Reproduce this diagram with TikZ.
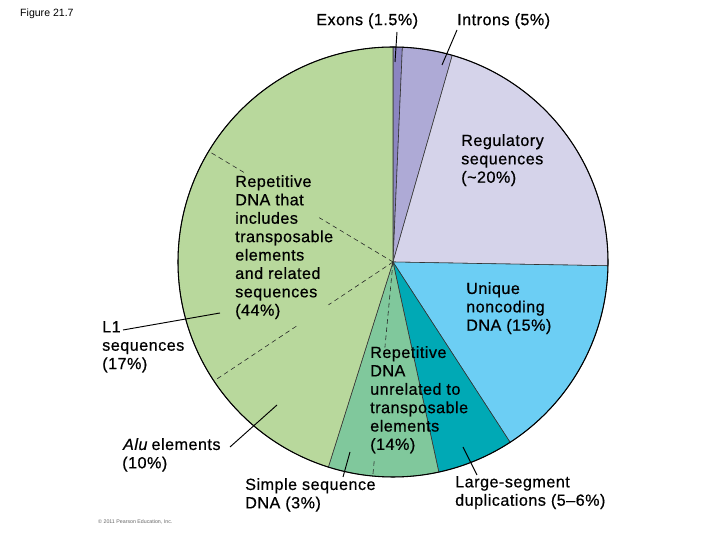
\documentclass[tikz,border=0pt]{standalone}
\usepackage{fontspec}
\setmainfont{Liberation Sans}
\newfontfamily\labfont[LetterSpace=3.0,FakeBold=0.6]{Liberation Sans}
\usetikzlibrary{calc}
\begin{document}
\begin{tikzpicture}[x=0.03cm,y=0.03cm,
  lab/.style={inner sep=0pt,align=left,font=\labfont\fontsize{13.8pt}{15.7pt}\selectfont},
  sl/.style={draw=black!80,line width=0.5pt},
  dsh/.style={draw=black!85,dashed,dash pattern=on 4pt off 3pt,line width=0.5pt},
  ptr/.style={draw=black,line width=0.8pt}]
\useasboundingbox (0,0) rectangle (720,540);
\definecolor{lgreen}{HTML}{B8D89C}
\definecolor{mgreen}{HTML}{80C89C}
\definecolor{teal1}{HTML}{00A9B5}
\definecolor{lblue}{HTML}{6CCEF4}
\definecolor{lav}{HTML}{D5D3EA}
\definecolor{intr}{HTML}{AEAAD6}
\definecolor{exon}{HTML}{8B85C1}
\coordinate (c) at (393,278);
\def\R{215}
\foreach \a/\b/\col in {87.5/90/exon,74/87.5/intr,-1/74/lav,-57/-1/lblue,-77.7/-57/teal1,-107.5/-77.7/mgreen,-270/-107.5/lgreen}{
  \filldraw[sl,fill=\col] (c) -- ++(\a:\R) arc (\a:\b:\R) -- cycle;
}
\draw[black,line width=0.9pt] (c) circle (\R);
% dashed sub-divisions
\draw[dsh] (c) -- ($(c)+(149:0.4*\R)$);
\draw[dsh] ($(c)+(149:0.81*\R)$) -- ($(c)+(149:\R)$);
\draw[dsh] (c) -- ($(c)+(213.6:0.36*\R)$);
\draw[dsh] ($(c)+(213.6:0.54*\R)$) -- ($(c)+(213.6:\R)$);
\draw[dsh] (c) -- ($(c)+(-95.4:0.4*\R)$);
\draw[dsh] ($(c)+(-95.4:0.93*\R)$) -- ($(c)+(-95.4:\R)$);
% labels
\node[inner sep=0pt,anchor=west] (fig) at (20,526) {\fontsize{9pt}{10pt}\selectfont Figure 21.7};
\node[inner sep=0pt,anchor=west] (cp) at (98,18) {\fontsize{4.5pt}{5pt}\selectfont\color{black!60}\textcopyright{} 2011 Pearson Education, Inc.};
\node[lab,anchor=west] (ex) at (316,519) {Exons (1.5\%)};
\node[lab,anchor=west] (in) at (457,519) {Introns (5\%)};
\node[lab,anchor=north west] (reg) at (461,406) {Regulatory\\sequences\\(\textasciitilde20\%)};
\node[lab,anchor=north west] (rep) at (235,365) {Repetitive\\DNA that\\includes\\transposable\\elements\\and related\\sequences\\(44\%)};
\node[lab,anchor=north west] (l1) at (102,219) {L1\\sequences\\(17\%)};
\node[lab,anchor=north west] (uni) at (466,258) {Unique\\noncoding\\DNA (15\%)};
\node[lab,anchor=north west] (unr) at (370,194) {Repetitive\\DNA\\unrelated to\\transposable\\elements\\(14\%)};
\node[lab,anchor=north west] (alu) at (122,102) {{\addfontfeature{FakeSlant=0.2}Alu} elements\\(10\%)};
\node[lab,anchor=north west] (sim) at (245,62) {Simple sequence\\DNA (3\%)};
\node[lab,anchor=north west] (lar) at (455,64) {Large-segment\\duplications (5–6\%)};
% pointers
\coordinate (exa) at (397,508); \coordinate (exb) at (395,478);
\coordinate (ina) at (457,510); \coordinate (inb) at (442,475);
\coordinate (l1a) at (123,210); \coordinate (l1b) at (220,227);
\coordinate (alua) at (230,93); \coordinate (alub) at (277,135);
\coordinate (sima) at (343,63); \coordinate (simb) at (350,88);
\coordinate (lara) at (477,65); \coordinate (larb) at (463,93);
\draw[ptr] (exa) -- (exb);
\draw[ptr] (ina) -- (inb);
\draw[ptr] (l1a) -- (l1b);
\draw[ptr] (alua) -- (alub);
\draw[ptr] (sima) -- (simb);
\draw[ptr] (lara) -- (larb);
\end{tikzpicture}
\end{document}
